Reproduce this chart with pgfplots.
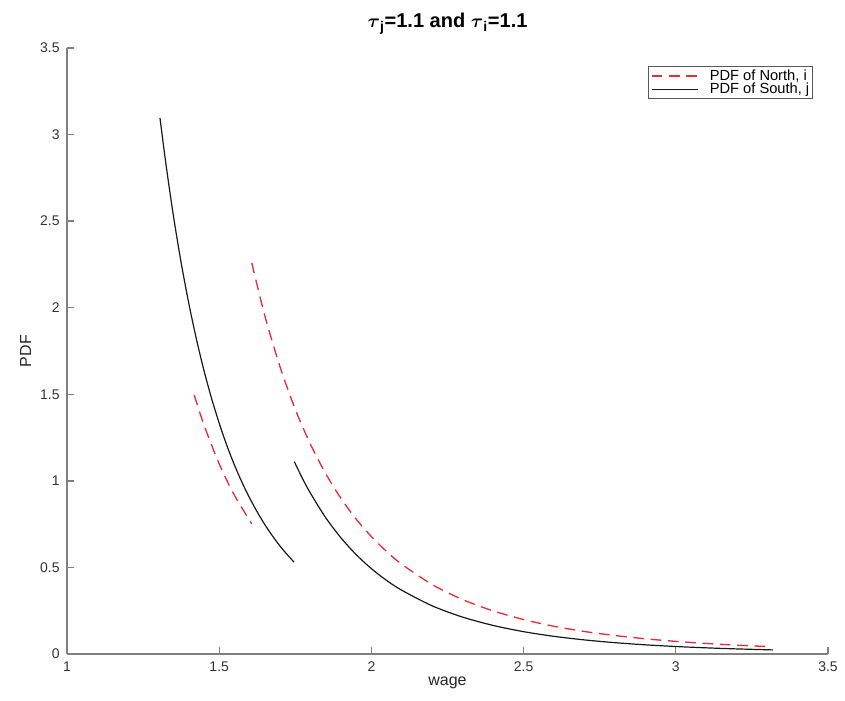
\documentclass[border=0pt]{standalone}
\usepackage{amsmath}
\usepackage{fontspec}
\setmainfont{Liberation Sans}
\usepackage{pgfplots}
\pgfplotsset{compat=1.18}
\definecolor{axgray}{RGB}{128,128,128}
\definecolor{myred}{RGB}{232,45,55}
\begin{document}
\begin{tikzpicture}
\useasboundingbox (-50.25pt,-34.5pt) rectangle (583.5pt,490.5pt);
\begin{axis}[
  at={(0,0)}, anchor=south west,
  scale only axis,
  width=570.75pt, height=454.5pt,
  xmin=1, xmax=3.5, ymin=0, ymax=3.5,
  axis x line=bottom, axis y line=left,
  axis line style={-, axgray, line width=1.3pt},
  every tick/.style={axgray, line width=1pt},
  major tick length=5pt,
  tick align=inside,
  xtick={1,1.5,2,2.5,3,3.5},
  ytick={0,0.5,1,1.5,2,2.5,3,3.5},
  /pgf/number format/assume math mode=true,
  tick label style={font=\fontsize{10.5}{12}\selectfont, text=black!80},
  xticklabel style={yshift=-2pt},
  yticklabel style={xshift=-2pt},
  xlabel={wage}, ylabel={PDF},
  label style={font=\fontsize{12}{13}\selectfont, text=black!85},
  xlabel style={yshift=3pt},
  ylabel style={yshift=0pt},
  title={$\boldsymbol{\tau}_{\mathbf{j}}$=1.1 and $\boldsymbol{\tau}_{\mathbf{i}}$=1.1},
  title style={font=\bfseries\fontsize{15}{17}\selectfont, yshift=1pt},
  legend style={at={(0.980,0.970)}, anchor=north east, draw=black!65, line width=0.7pt,
    font=\fontsize{11}{12}\selectfont, inner sep=2pt, row sep=0pt, fill=white,
    nodes={inner sep=0.3pt},
    /tikz/every odd column/.append style={column sep=8pt}},
  legend cell align=left,
  legend image code/.code={\draw[#1] plot coordinates {(0cm,0cm) (1.22cm,0cm)};},
]
\addplot[myred, line width=1pt, dash pattern=on 8pt off 5pt, smooth] coordinates {
(1.418,1.496) (1.45,1.323) (1.50,1.098) (1.55,0.917) (1.607,0.752)
};
\addlegendentry{PDF of North, i}
\addplot[black!90, line width=0.9pt, smooth] coordinates {
(1.3055,3.096) (1.325,2.830) (1.35,2.526) (1.375,2.260) (1.40,2.026) (1.425,1.820)
(1.45,1.637) (1.475,1.476) (1.50,1.333) (1.525,1.205) (1.55,1.092) (1.575,0.991)
(1.60,0.901) (1.625,0.820) (1.65,0.747) (1.675,0.682) (1.70,0.623) (1.72,0.581) (1.7457,0.531)
};
\addlegendentry{PDF of South, j}
\addplot[myred, line width=1pt, dash pattern=on 8pt off 5pt, smooth, forget plot] coordinates {
(1.607,2.259) (1.65,1.953) (1.70,1.658) (1.75,1.413) (1.8,1.211) (1.85,1.041) (1.9,0.899)
(1.95,0.779) (2.0,0.678) (2.05,0.592) (2.1,0.518) (2.2,0.401) (2.3,0.314) (2.4,0.249) (2.5,0.199)
(2.6,0.160) (2.7,0.130) (2.8,0.1066) (2.9,0.0879) (3.0,0.0729) (3.1,0.0609)
(3.2,0.0511) (3.3,0.0432)
};
\addplot[black!90, line width=0.9pt, smooth, forget plot] coordinates {
(1.7467,1.111) (1.775,1.009) (1.8,0.928) (1.85,0.787) (1.9,0.671) (1.95,0.574) (2.0,0.493)
(2.05,0.425) (2.1,0.368) (2.2,0.278)
(2.3,0.213) (2.4,0.165) (2.5,0.129) (2.6,0.102) (2.7,0.0814) (2.8,0.0655)
(2.9,0.0530) (3.0,0.0433) (3.1,0.0356) (3.2,0.0294) (3.32,0.0236)
};
\end{axis}
\end{tikzpicture}
\end{document}
